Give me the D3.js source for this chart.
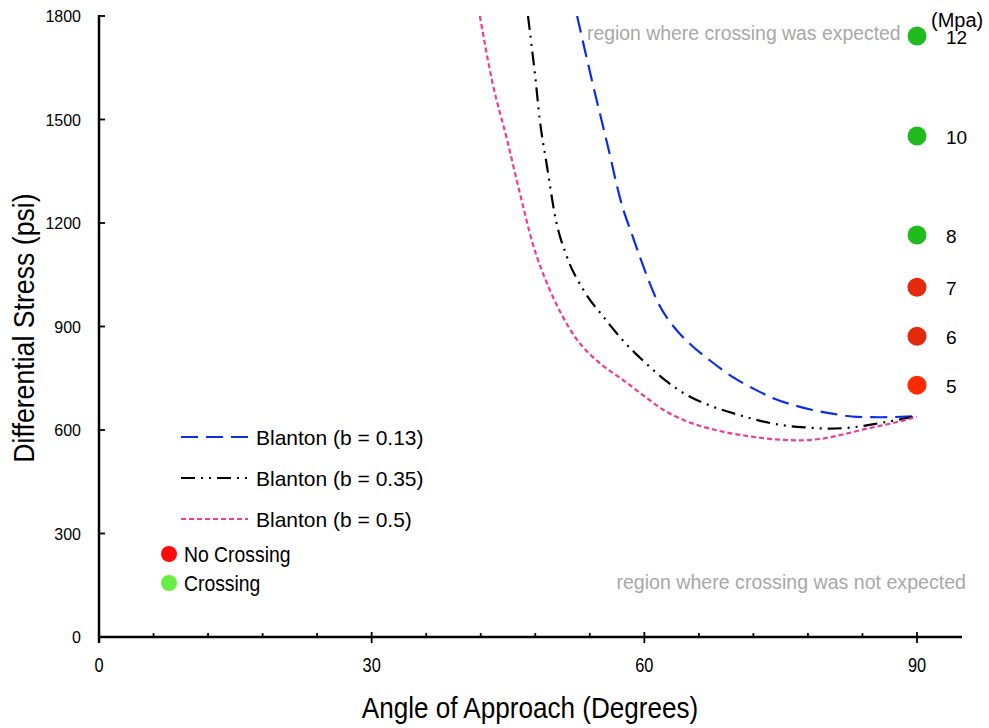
<!DOCTYPE html>
<html>
<head>
<meta charset="utf-8">
<script src="https://cdn.jsdelivr.net/npm/d3@7"></script>
<style>
  body { margin: 0; background: #fff; }
  svg { display: block; font-family: "Liberation Sans", Arial, sans-serif; }
</style>
</head>
<body>
<svg id="chart"></svg>
<script>
// blanton curves, angle (deg) vs differential stress (psi)
var blueAngles = [52.6, 54.3, 55.9, 57.6, 58.6, 59.6, 60.6, 61.5, 62.5, 63.7, 65, 67.3, 69.7, 72, 74.1, 76.3, 78.5, 81, 83.4, 86, 90];
var blueValues = [1800, 1606, 1432, 1246, 1170, 1095, 1025, 970, 925, 885, 850, 800, 754, 720, 693, 673, 658, 646, 638, 637, 640];

var blackAngles = [47.2, 48, 48.5, 49.3, 50.2, 51.5, 53.3, 55.5, 57.6, 60.6, 62.5, 64.7, 67.5, 70.5, 73, 75.7, 78, 80.4, 83, 85.9, 88, 90];
var blackValues = [1800, 1623, 1499, 1363, 1217, 1101, 1006, 928, 861, 783, 740, 701, 668, 643, 625, 612, 607, 604, 608, 620, 630, 640];

var pinkAngles = [41.9, 43.3, 44.9, 46.3, 47.7, 49.6, 51, 52.5, 54, 55.5, 57.5, 59.8, 62, 64.5, 67.5, 71, 74.9, 77, 79.3, 82, 84, 87, 90];
var pinkValues = [1800, 1606, 1441, 1287, 1142, 1006, 930, 865, 820, 785, 748, 702, 660, 627, 602, 584, 572, 570, 574, 588, 601, 618, 638];

// test points at 90 degrees
var testAngle = 90;
var testValues = [1742, 1452, 1165, 1014, 872, 730];
var testLabels = ["12", "10", "8", "7", "6", "5"];
var testCrossing = [true, true, true, false, false, false];

var xTicks = [0, 30, 60, 90];
var yTicks = [0, 300, 600, 900, 1200, 1500, 1800];

var width = 989, height = 728;
var marginLeft = 99, marginTop = 16, axisRight = 962, axisBottom = 637;

var svg = d3.select("#chart").attr("width", width).attr("height", height);

var x = d3.scaleLinear([0, 90], [marginLeft, 917]);
var y = d3.scaleLinear([0, 1800], [axisBottom, marginTop]);

// condensed text: scale horizontally around its anchor point
function narrowText(px, py, str, size, sx, anchor) {
  return svg.append("text")
    .attr("transform", "translate(" + px + "," + py + ") scale(" + sx + ",1)")
    .attr("text-anchor", anchor || "start")
    .attr("font-size", size).text(str);
}

svg.append("defs").append("clipPath").attr("id", "plot")
  .append("rect").attr("x", marginLeft).attr("y", marginTop)
  .attr("width", axisRight - marginLeft).attr("height", axisBottom - marginTop);

// region notes
svg.append("text").attr("x", 587).attr("y", 40).attr("fill", "#a8a8a8")
  .attr("font-size", 19.4).text("region where crossing was expected");
svg.append("text").attr("x", 966).attr("y", 589).attr("fill", "#a8a8a8")
  .attr("text-anchor", "end").attr("font-size", 19.6).text("region where crossing was not expected");

// curves
var line = d3.line().curve(d3.curveMonotoneX).x(d => x(d[0])).y(d => y(d[1]));
var series = [
  {a: blueAngles, v: blueValues, color: "#0a2ee8", dash: "17,8", name: "Blanton (b = 0.13)"},
  {a: blackAngles, v: blackValues, color: "#000", dash: "14,6,2,6,2,6", name: "Blanton (b = 0.35)"},
  {a: pinkAngles, v: pinkValues, color: "#f03a9a", dash: "5,3", name: "Blanton (b = 0.5)"}
];
series.forEach(function(s) {
  svg.append("path")
    .attr("clip-path", "url(#plot)")
    .attr("fill", "none")
    .attr("stroke", s.color)
    .attr("stroke-width", 2.2)
    .attr("stroke-dasharray", s.dash)
    .attr("d", line(d3.zip(s.a, s.v)));
});

// axes
var xAxis = svg.append("g");
xAxis.append("line").attr("x1", marginLeft).attr("x2", axisRight)
  .attr("y1", axisBottom).attr("y2", axisBottom).attr("stroke", "#000").attr("stroke-width", 2.5);
d3.range(0, 96, 6).forEach(function(t) {
  var major = t % 30 === 0;
  xAxis.append("line").attr("x1", x(t)).attr("x2", x(t))
    .attr("y1", major ? axisBottom - 5 : axisBottom - 4).attr("y2", major ? axisBottom + 6 : axisBottom)
    .attr("stroke", "#000").attr("stroke-width", 1.8);
});
xTicks.forEach(function(t) { narrowText(x(t), 672, t, 20, 0.82, "middle"); });

var yAxis = svg.append("g");
yAxis.append("line").attr("x1", marginLeft).attr("x2", marginLeft)
  .attr("y1", marginTop - 1).attr("y2", axisBottom + 6).attr("stroke", "#000").attr("stroke-width", 2.5);
yAxis.selectAll(".yt").data(yTicks).join("line")
  .attr("x1", marginLeft).attr("x2", marginLeft + 6)
  .attr("y1", d => y(d)).attr("y2", d => y(d))
  .attr("stroke", "#000").attr("stroke-width", 1.8);
yAxis.selectAll(".yl").data(yTicks).join("text")
  .attr("x", 81).attr("y", d => y(d) + 6)
  .attr("text-anchor", "end").attr("font-size", 16).text(d => d);

// axis titles
narrowText(530, 718, "Angle of Approach (Degrees)", 30, 0.87, "middle");
svg.append("text")
  .attr("transform", "translate(34,328) rotate(-90) scale(0.92,1)")
  .attr("text-anchor", "middle").attr("font-size", 29).text("Differential Stress (psi)");

// test points
var pointColors = ["#1fbb1f", "#1fbb1f", "#1fbb1f", "#e42a0a", "#e42a0a", "#ff2a00"];
svg.selectAll(".pt").data(testValues).join("circle")
  .attr("cx", x(testAngle)).attr("cy", d => y(d)).attr("r", 9.5)
  .attr("fill", (d, i) => pointColors[i]);
svg.selectAll(".pl").data(testValues).join("text")
  .attr("x", x(testAngle) + 29).attr("y", d => y(d) + 8)
  .attr("font-size", 19).text((d, i) => testLabels[i]);
svg.append("text").attr("x", 931).attr("y", 27).attr("font-size", 20).text("(Mpa)");

// legend
series.forEach(function(s, i) {
  var ly = 437 + i * 41;
  svg.append("line").attr("x1", 181).attr("x2", 248).attr("y1", ly).attr("y2", ly)
    .attr("stroke", s.color).attr("stroke-width", 2.2).attr("stroke-dasharray", s.dash);
  svg.append("text").attr("x", 256).attr("y", ly + 8).attr("font-size", 21).text(s.name);
});
var markerLegend = [["No Crossing", "#ff0a0a"], ["Crossing", "#66ee44"]];
markerLegend.forEach(function(m, i) {
  var ly = 554 + i * 29;
  svg.append("circle").attr("cx", 169).attr("cy", ly).attr("r", 8).attr("fill", m[1]);
  narrowText(184, ly + 8, m[0], 22, 0.88);
});
</script>
</body>
</html>
